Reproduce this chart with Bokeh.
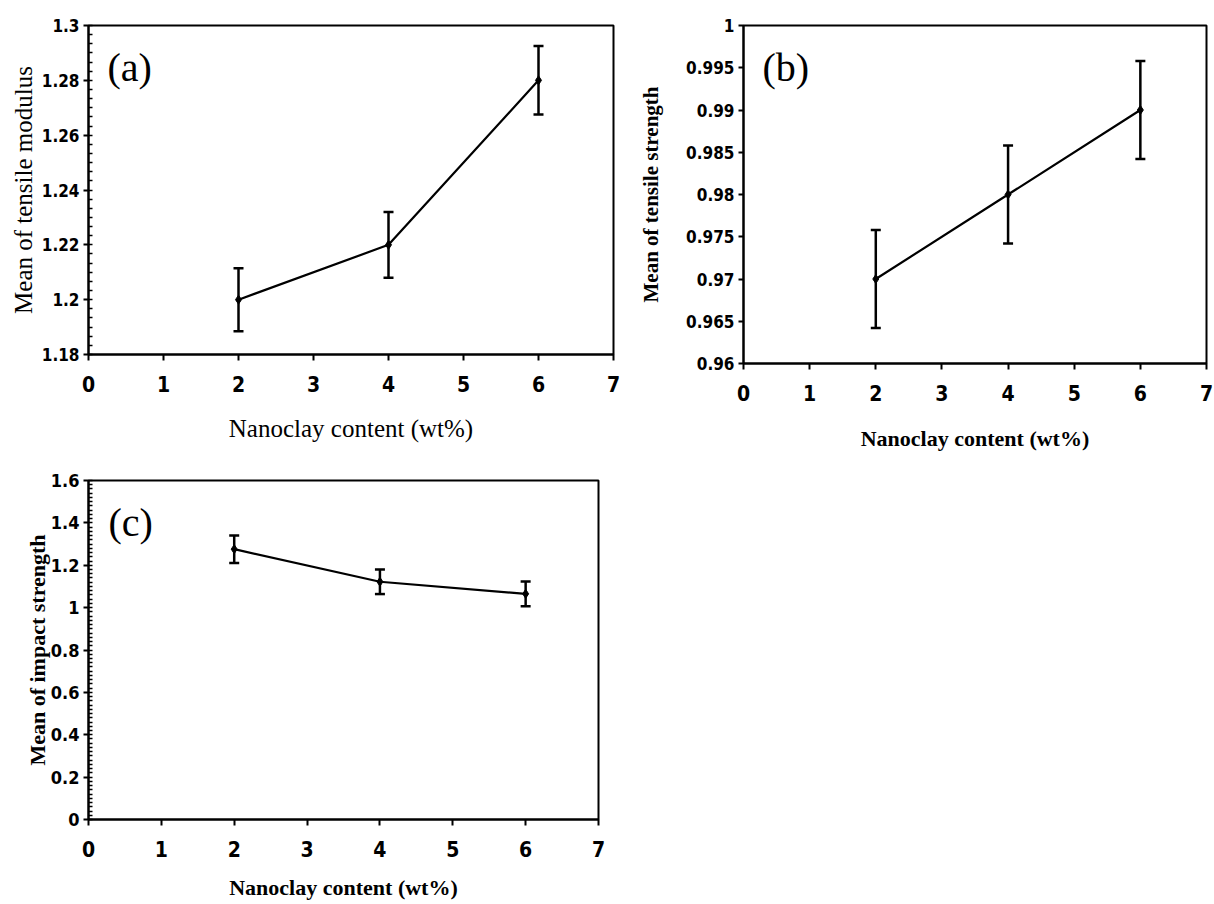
from bokeh.plotting import figure
from bokeh.layouts import column, row
from bokeh.models import (ColumnDataSource, Whisker, TeeHead, Label, Range1d,
                          SingleIntervalTicker, CustomJSTickFormatter)
from bokeh.embed import file_html
from bokeh.resources import INLINE

# ---- data ----
nanoclay = [2, 4, 6]
modulus = [1.20, 1.22, 1.28]
modulus_err = [0.0115, 0.012, 0.0125]
strength = [0.97, 0.98, 0.99]
strength_err = [0.0058, 0.0058, 0.0058]
impact = [1.276, 1.122, 1.065]
impact_err = [0.065, 0.058, 0.058]

x_label = "Nanoclay content (wt%)"
TICK_FONT = "DejaVu Sans Condensed"
SERIF = "Liberation Serif"

fmt = CustomJSTickFormatter(code="return String(Number(tick.toFixed(4)));")


def make_panel(vals, errs, ylabel, tag, yrange, yint, nminor, width, height,
               borders, frame_w, frame_h, tag_pos, bold, xl_size,
               yl_size, xl_standoff, yl_standoff, yt_size):
    p = figure(width=width, height=height, output_backend="svg",
               toolbar_location=None, x_range=Range1d(0, 7),
               y_range=Range1d(*yrange),
               min_border_left=borders[0], min_border_right=borders[1],
               min_border_top=borders[2], min_border_bottom=borders[3],
               frame_width=frame_w, frame_height=frame_h)
    p.grid.visible = False
    p.outline_line_color = "black"
    p.outline_line_width = 2
    p.background_fill_color = "white"
    p.border_fill_color = "white"

    p.xaxis.ticker = SingleIntervalTicker(interval=1, num_minor_ticks=0)
    p.yaxis.ticker = SingleIntervalTicker(interval=yint, num_minor_ticks=nminor)
    p.yaxis.formatter = fmt
    for ax in (p.xaxis, p.yaxis):
        ax.axis_line_width = 2
        ax.axis_line_color = "black"
        ax.major_tick_line_width = 2
        ax.major_tick_line_color = "black"
        ax.minor_tick_line_width = 1.5
        ax.minor_tick_line_color = "black"
        ax.major_label_text_font = TICK_FONT
        ax.major_label_text_font_style = "bold"
        ax.major_label_text_color = "black"
        ax.axis_label_text_font = SERIF
        ax.axis_label_text_font_style = "bold" if bold else "normal"
        ax.axis_label_text_color = "black"
    p.xaxis.major_tick_in = 0
    p.xaxis.major_tick_out = 6
    p.xaxis.major_label_text_font_size = "21px"
    p.xaxis.major_label_standoff = 15
    p.yaxis.major_tick_in = 0
    p.yaxis.major_tick_out = 5
    p.yaxis.minor_tick_in = 4
    p.yaxis.minor_tick_out = 0
    p.yaxis.major_label_text_font_size = yt_size
    p.yaxis.major_label_standoff = 4

    p.xaxis.axis_label = x_label
    p.yaxis.axis_label = ylabel
    p.xaxis.axis_label_text_font_size = xl_size
    p.yaxis.axis_label_text_font_size = yl_size
    p.xaxis.axis_label_standoff = xl_standoff
    p.yaxis.axis_label_standoff = yl_standoff

    src = ColumnDataSource(dict(
        x=nanoclay, y=vals,
        upper=[v + e for v, e in zip(vals, errs)],
        lower=[v - e for v, e in zip(vals, errs)]))
    p.line("x", "y", source=src, line_color="black", line_width=2.2)
    p.scatter("x", "y", source=src, marker="diamond", size=9,
              fill_color="black", line_color="black")
    w = Whisker(base="x", upper="upper", lower="lower", source=src,
                line_color="black", line_width=2.5,
                upper_head=TeeHead(size=10, line_color="black", line_width=2.5),
                lower_head=TeeHead(size=10, line_color="black", line_width=2.5))
    p.add_layout(w)

    p.add_layout(Label(x=tag_pos[0], y=tag_pos[1], x_units="screen",
                       y_units="screen", text=tag, text_font=SERIF,
                       text_font_size="40px", text_baseline="middle",
                       text_color="black"))
    return p


pa = make_panel(modulus, modulus_err, "Mean of tensile modulus", "(a)",
                (1.18, 1.30), 0.02, 6, 620, 458, (88, 7, 25, 104), 525, 329,
                (19, 287), False, "25px", "25px", 20, 2, "17px")
pb = make_panel(strength, strength_err, "Mean of tensile strength", "(b)",
                (0.96, 1.0), 0.005, 0, 594, 458, (123, 8, 25, 95), 463, 338,
                (19, 296), True, "22px", "21px", 22, 20, "17px")
pc = make_panel(impact, impact_err, "Mean of impact strength", "(c)",
                (0.0, 1.6), 0.2, 10, 620, 446, (88, 22, 22, 85), 510, 339,
                (20, 297), True, "22px", "22px", 15, -2, "18px")

layout = column(row(pa, pb), pc)
open("out.html", "w").write(file_html(layout, INLINE))
